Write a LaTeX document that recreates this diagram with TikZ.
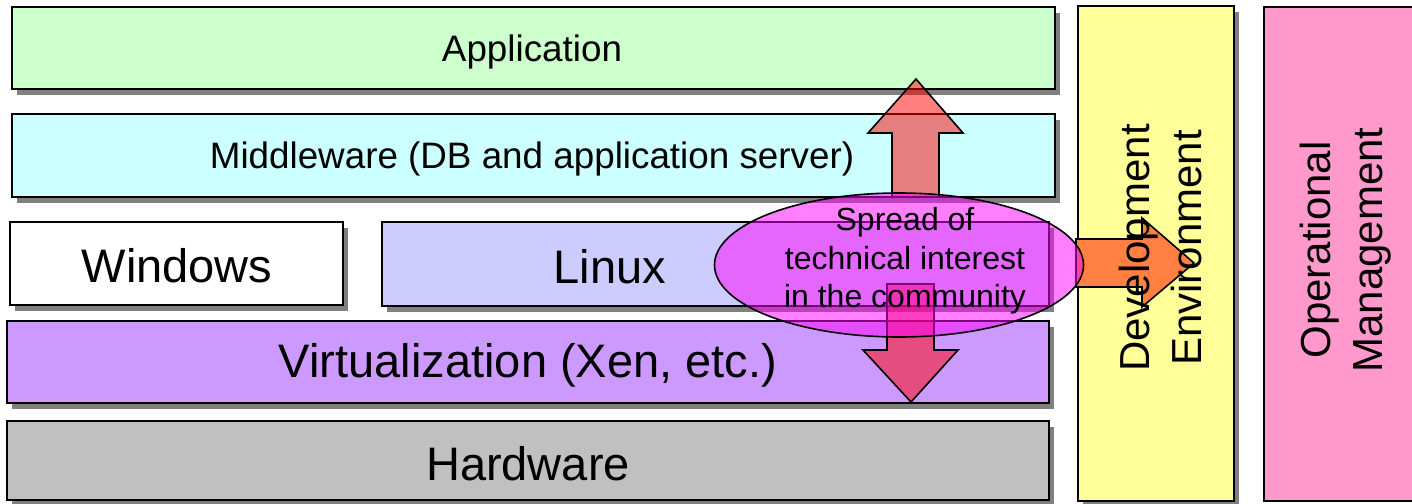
\documentclass[tikz,border=0pt]{standalone}
\usepackage{fontspec}
\setmainfont{Liberation Sans}
\usetikzlibrary{fit,shadows,shapes.geometric}
\definecolor{appc}{HTML}{CCFFCC}
\definecolor{midc}{HTML}{CCFFFF}
\definecolor{linc}{HTML}{CCCCFF}
\definecolor{virc}{HTML}{CC99FF}
\definecolor{hwc}{HTML}{C0C0C0}
\definecolor{devc}{HTML}{FFFF99}
\definecolor{opsc}{HTML}{FF99CC}
\definecolor{redc}{RGB}{255,0,0}
\definecolor{magc}{RGB}{255,0,255}
\definecolor{orc}{RGB}{255,128,64}
\tikzset{
  layer/.style={draw=black, line width=0.8pt, inner sep=0pt,
    drop shadow={shadow xshift=2.6pt, shadow yshift=-3pt, fill=black!50, opacity=1}},
  plain/.style={draw=black, line width=0.8pt, inner sep=0pt},
  bigtxt/.style={font=\fontsize{23.5}{28}\selectfont},
  midtxt/.style={font=\fontsize{18.4}{22}\selectfont},
  vtxt/.style={font=\fontsize{21}{26}\selectfont, rotate=90, align=center},
  eltxt/.style={font=\fontsize{16}{19.3}\selectfont, align=center},
  blockarrow/.style={draw=black, line width=0.8pt},
}
\begin{document}
\begin{tikzpicture}[x=0.5pt,y=-0.5pt]
\useasboundingbox (0,0) rectangle (1412,503);
% layers
\node[layer, fill=appc, fit={(12,7) (1055,89)}] (app) {};
\node[midtxt] (apptxt) at (532,52) {Application};
\node[layer, fill=midc, fit={(12,114) (1055,197)}] (mid) {};
\node[midtxt] (midtxt) at (532,159) {Middleware (DB and application server)};
\node[layer, fill=white, fit={(10,222) (343,305)}] (win) {};
\node[bigtxt] (wintxt) at (177,266) {Windows};
\node[layer, fill=linc, fit={(382,222) (1049,306)}] (lin) {};
\node[bigtxt] (lintxt) at (610,267) {Linux};
\node[layer, fill=virc, fit={(7,321) (1049,403)}] (vir) {};
\node[bigtxt] (virtxt) at (528,365) {Virtualization (Xen, etc.)};
\node[layer, fill=hwc, fit={(7,421) (1049,500)}] (hw) {};
\node[bigtxt] (hwtxt) at (528,464) {Hardware};
\node[layer, fill=devc, fit={(1078,6) (1234,501)}] (dev) {};
\node[plain, fill=opsc, fit={(1264,7) (1422,501)}] (ops) {};
% up and down arrows
\draw[blockarrow, fill=redc, fill opacity=0.5]
  (892,197) -- (892,133) -- (868,133) -- (916,79) -- (963,133) -- (939,133) -- (939,197) -- cycle;
\draw[blockarrow, fill=redc, fill opacity=0.5]
  (887,284) -- (887,350) -- (863,350) -- (911,402) -- (958,350) -- (934,350) -- (934,284) -- cycle;
% right arrow
\draw[blockarrow, fill=orc]
  (1076,239) -- (1142,239) -- (1142,218) -- (1194,263) -- (1142,307) -- (1142,287) -- (1076,287) -- cycle;
% ellipse
\node[draw=black, line width=0.8pt, fill=magc, fill opacity=0.5, ellipse,
  minimum width=184.5pt, minimum height=72pt, inner sep=0pt] (spread) at (899,265) {};
% texts on top
\node[eltxt] (spreadtxt) at (905,261) {Spread of\\technical interest\\in the community};
\node[vtxt] (devtxt) at (1160,248) {Development\\Environment};
\node[vtxt] (opstxt) at (1346,250) {Operational\\Management};
\end{tikzpicture}
\end{document}
